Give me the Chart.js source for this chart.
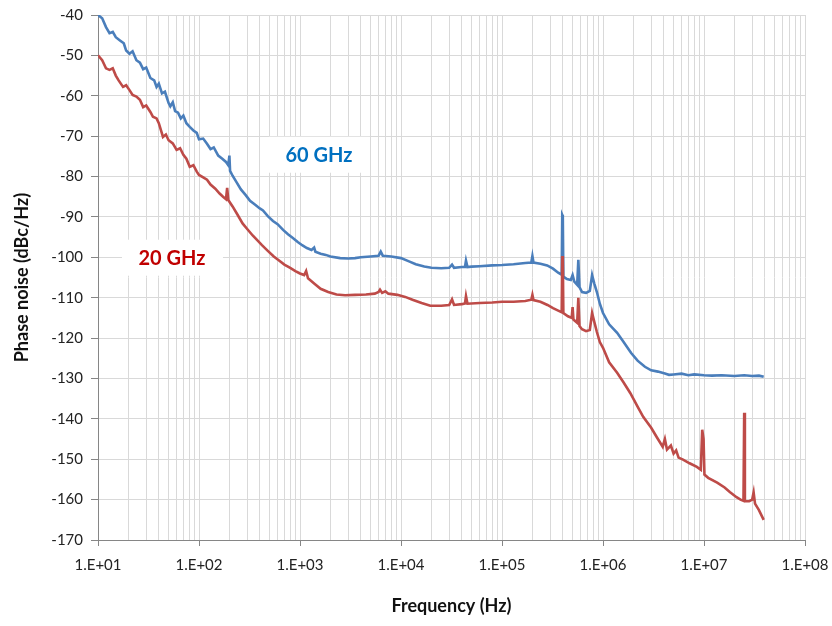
<!DOCTYPE html>
<html>
<head>
<meta charset="utf-8">
<script src="https://cdn.jsdelivr.net/npm/chart.js@4/dist/chart.umd.min.js"></script>
<style>
    body { margin: 0; background: #fff; }
    canvas { display: block; }
</style>
</head>
<body>
<canvas id="noiseChart" width="832" height="626"></canvas>
<script>
// 60 GHz trace (blue)
const blueFreq = [10, 11, 12, 13, 14, 15, 16.5, 18, 19, 20.5, 22, 24, 26, 28, 30, 33, 36, 38, 40, 43, 46, 50, 52, 55, 58, 62, 66, 70, 75, 81, 88, 95, 100, 110, 120, 130, 140, 155, 170, 185, 195, 200, 203, 215, 235, 260, 290, 320, 360, 400, 430, 480, 540, 600, 680, 760, 850, 950, 1050, 1170, 1300, 1380, 1420, 1600, 1800, 2000, 2500, 3000, 3500, 4000, 5000, 6000, 6300, 6600, 8000, 10000, 12000, 14000, 17000, 20000, 25000, 30000, 32000, 33500, 40000, 43000, 44000, 45500, 50000, 60000, 80000, 100000, 130000, 170000, 195000, 200000, 205000, 240000, 280000, 320000, 360000, 390000, 395000, 400000, 405000, 440000, 480000, 500000, 520000, 555000, 570000, 585000, 620000, 680000, 740000, 780000, 820000, 870000, 930000, 1000000, 1150000, 1380000, 1600000, 1900000, 2200000, 2600000, 3000000, 3500000, 4100000, 4500000, 5000000, 6000000, 7000000, 8000000, 10000000, 12000000, 15000000, 20000000, 25000000, 30000000, 35000000, 39000000];
const blueDb = [-40.0, -40.8, -43.0, -44.5, -44.2, -45.5, -46.3, -47.0, -48.8, -49.6, -49.0, -51.2, -51.8, -53.4, -53.0, -55.6, -56.2, -57.8, -57.0, -59.4, -59.0, -61.8, -62.6, -61.6, -63.8, -64.2, -65.6, -64.9, -66.8, -67.7, -68.6, -69.2, -70.8, -70.6, -71.9, -73.2, -72.8, -74.8, -75.6, -76.4, -77.2, -74.8, -78.6, -79.8, -81.4, -83.2, -84.6, -86.0, -87.0, -87.9, -88.4, -89.8, -91.0, -91.8, -93.2, -94.3, -95.2, -96.2, -97.0, -97.7, -98.2, -97.6, -98.6, -99.1, -99.4, -99.8, -100.2, -100.3, -100.2, -100.0, -99.8, -99.6, -98.6, -99.6, -99.8, -100.2, -101.0, -101.7, -102.3, -102.6, -102.7, -102.6, -101.8, -102.6, -102.4, -102.4, -100.8, -102.4, -102.3, -102.2, -102.0, -101.9, -101.7, -101.4, -101.3, -99.7, -101.3, -101.6, -102.0, -102.8, -103.8, -104.3, -89.5, -89.8, -104.8, -105.4, -105.6, -104.4, -106.0, -106.8, -100.6, -107.4, -108.6, -108.8, -108.3, -104.4, -106.5, -108.6, -111.5, -113.8, -116.6, -118.7, -121.0, -123.7, -125.6, -127.1, -128.0, -128.3, -128.8, -129.1, -129.0, -128.8, -129.2, -129.0, -129.2, -129.3, -129.2, -129.4, -129.2, -129.4, -129.3, -129.6];

// 20 GHz trace (red)
const redFreq = [10, 11, 12, 13, 14, 15, 16, 17.7, 19, 20.5, 22, 24, 26, 28, 30, 33, 35, 38, 40, 44, 47, 50, 55, 60, 65, 70, 75, 81, 88, 95, 100, 110, 120, 130, 145, 160, 173, 185, 190, 195, 215, 240, 270, 300, 340, 375, 420, 480, 550, 620, 700, 800, 900, 1000, 1100, 1150, 1200, 1400, 1600, 1900, 2300, 2800, 3500, 4500, 5500, 6000, 6200, 6500, 7000, 7500, 9200, 11000, 13000, 16000, 19500, 25000, 30000, 32000, 33500, 40000, 43000, 44000, 45500, 60000, 80000, 100000, 130000, 170000, 195000, 200000, 205000, 240000, 282000, 320000, 360000, 390000, 395000, 400000, 405000, 450000, 490000, 500000, 510000, 555000, 570000, 585000, 620000, 680000, 740000, 780000, 820000, 870000, 930000, 1000000, 1150000, 1380000, 1600000, 1860000, 2200000, 2500000, 3000000, 3400000, 3900000, 4100000, 4300000, 4700000, 5000000, 5300000, 5600000, 6200000, 7200000, 8500000, 9300000, 9600000, 9900000, 10100000, 11000000, 13500000, 16000000, 18000000, 21000000, 23000000, 24600000, 25000000, 25400000, 28000000, 30000000, 31000000, 32000000, 35000000, 39000000];
const redDb = [-50.0, -51.2, -53.2, -53.6, -53.2, -55.0, -56.2, -57.8, -57.4, -58.6, -59.8, -60.2, -61.0, -62.8, -62.4, -64.0, -65.2, -65.6, -66.8, -70.2, -69.6, -71.0, -71.8, -73.4, -73.0, -74.6, -75.6, -77.6, -77.2, -78.8, -79.6, -80.2, -80.8, -82.0, -83.0, -84.2, -85.0, -85.6, -82.8, -85.8, -87.4, -89.4, -91.6, -93.0, -94.6, -95.7, -97.0, -98.4, -99.8, -100.8, -101.8, -102.6, -103.4, -104.0, -104.4, -103.4, -105.2, -106.6, -107.8, -108.6, -109.2, -109.4, -109.3, -109.2, -109.0, -108.6, -108.0, -108.8, -108.4, -109.0, -109.3, -109.8, -110.5, -111.3, -112.0, -112.0, -111.8, -110.4, -111.8, -111.6, -111.4, -109.6, -111.5, -111.3, -111.2, -111.0, -111.0, -110.8, -110.5, -109.3, -110.6, -111.0, -111.8, -112.6, -113.2, -113.6, -99.7, -100.5, -113.8, -114.6, -115.0, -112.3, -115.4, -116.2, -110.0, -117.0, -117.8, -118.3, -118.0, -113.8, -116.0, -118.5, -121.0, -122.4, -126.0, -128.6, -131.0, -133.6, -137.0, -139.5, -142.2, -144.5, -146.9, -145.0, -147.6, -146.6, -148.6, -147.8, -149.6, -150.1, -151.0, -151.9, -152.6, -142.7, -145.0, -153.8, -154.6, -155.8, -157.0, -158.1, -159.4, -160.0, -160.3, -138.5, -160.4, -160.4, -160.0, -158.2, -161.0, -162.6, -165.0];

const xMajorTicks = [1e1, 1e2, 1e3, 1e4, 1e5, 1e6, 1e7, 1e8];
const xTickLabels = ['1.E+01', '1.E+02', '1.E+03', '1.E+04', '1.E+05', '1.E+06', '1.E+07', '1.E+08'];
const yMin = -170;
const yMax = -40;

const seriesLabels = ['60 GHz', '20 GHz'];
const seriesColors = ['#4a7ebb', '#be4b48'];
const labelColors = ['#0070c0', '#c00000'];
// where the text boxes sit, in data units (freq, dB)
const labelAnchors = [[1540, -74.6], [54, -100.1]];

const FONT = 'Lato, "Liberation Sans", sans-serif';

// minor log grid: 1..9 per decade
const xGridValues = [];
for (let k = 0; k < xMajorTicks.length - 1; k++) {
    for (let m = 1; m < 10; m++) {
        xGridValues.push(m * xMajorTicks[k]);
    }
}
xGridValues.push(xMajorTicks[xMajorTicks.length - 1]);

function isDecade(v) {
    const l = Math.log10(v);
    return Math.abs(l - Math.round(l)) < 1e-9;
}

function toPoints(xs, ys) {
    return xs.map((x, i) => ({ x: x, y: ys[i] }));
}

const textBoxes = {
    id: 'textBoxes',
    beforeDatasetsDraw(chart) {
        const ctx = chart.ctx;
        const xs = chart.scales.x;
        const ys = chart.scales.y;
        ctx.save();
        ctx.font = 'bold 20px ' + FONT;
        ctx.textAlign = 'center';
        ctx.textBaseline = 'middle';
        labelAnchors.forEach((a, i) => {
            const px = xs.getPixelForValue(a[0]);
            const py = ys.getPixelForValue(a[1]);
            ctx.fillStyle = '#ffffff';
            ctx.fillRect(px - 50, py - 18, 101, 36);
            ctx.fillStyle = labelColors[i];
            ctx.fillText(seriesLabels[i], px, py + 1);
        });
        ctx.restore();
    }
};

const ctx = document.getElementById('noiseChart').getContext('2d');
new Chart(ctx, {
    type: 'scatter',
    data: {
        datasets: [{
            label: seriesLabels[0],
            data: toPoints(blueFreq, blueDb),
            showLine: true,
            borderColor: seriesColors[0],
            borderWidth: 2.6,
            pointRadius: 0,
            tension: 0,
            order: 1
        }, {
            label: seriesLabels[1],
            data: toPoints(redFreq, redDb),
            showLine: true,
            borderColor: seriesColors[1],
            borderWidth: 2.6,
            pointRadius: 0,
            tension: 0,
            order: 0
        }]
    },
    options: {
        responsive: false,
        animation: false,
        devicePixelRatio: 1,
        layout: {
            padding: { left: 0, top: 15, right: 27, bottom: 0 }
        },
        plugins: {
            legend: { display: false },
            tooltip: { enabled: false }
        },
        scales: {
            x: {
                type: 'logarithmic',
                min: xMajorTicks[0],
                max: xMajorTicks[xMajorTicks.length - 1],
                afterBuildTicks: scale => {
                    scale.ticks = xGridValues.map(v => ({ value: v }));
                },
                afterFit: scale => {
                    scale.height = 86;
                    scale.paddingLeft = 0;
                    scale.paddingRight = 0;
                },
                grid: {
                    color: '#d9d9d9',
                    lineWidth: 1,
                    tickLength: 6,
                    tickColor: c => (c.tick && isDecade(c.tick.value)) ? '#868686' : 'rgba(0,0,0,0)'
                },
                border: { color: '#868686', width: 1 },
                ticks: {
                    autoSkip: false,
                    maxRotation: 0,
                    minRotation: 0,
                    padding: 10,
                    color: '#222',
                    font: { family: FONT, size: 15 },
                    callback: v => isDecade(v) ? xTickLabels[xMajorTicks.findIndex(t => Math.abs(Math.log10(t) - Math.log10(v)) < 1e-9)] : ''
                },
                title: {
                    display: true,
                    text: 'Frequency (Hz)',
                    color: '#111',
                    font: { family: FONT, size: 18, weight: 'bold' },
                    padding: { top: 4, bottom: 9 }
                }
            },
            y: {
                min: yMin,
                max: yMax,
                afterFit: scale => {
                    scale.width = 98;
                    scale.paddingTop = 0;
                    scale.paddingBottom = 0;
                },
                grid: {
                    color: '#d9d9d9',
                    lineWidth: 1,
                    tickLength: 7,
                    tickColor: '#868686'
                },
                border: { color: '#868686', width: 1 },
                ticks: {
                    stepSize: 10,
                    padding: 8,
                    color: '#222',
                    font: { family: FONT, size: 15 }
                },
                title: {
                    display: true,
                    text: 'Phase noise (dBc/Hz)',
                    color: '#111',
                    font: { family: FONT, size: 18, weight: 'bold' },
                    padding: { top: 11, bottom: 4 }
                }
            }
        }
    },
    plugins: [textBoxes]
});
</script>
</body>
</html>
